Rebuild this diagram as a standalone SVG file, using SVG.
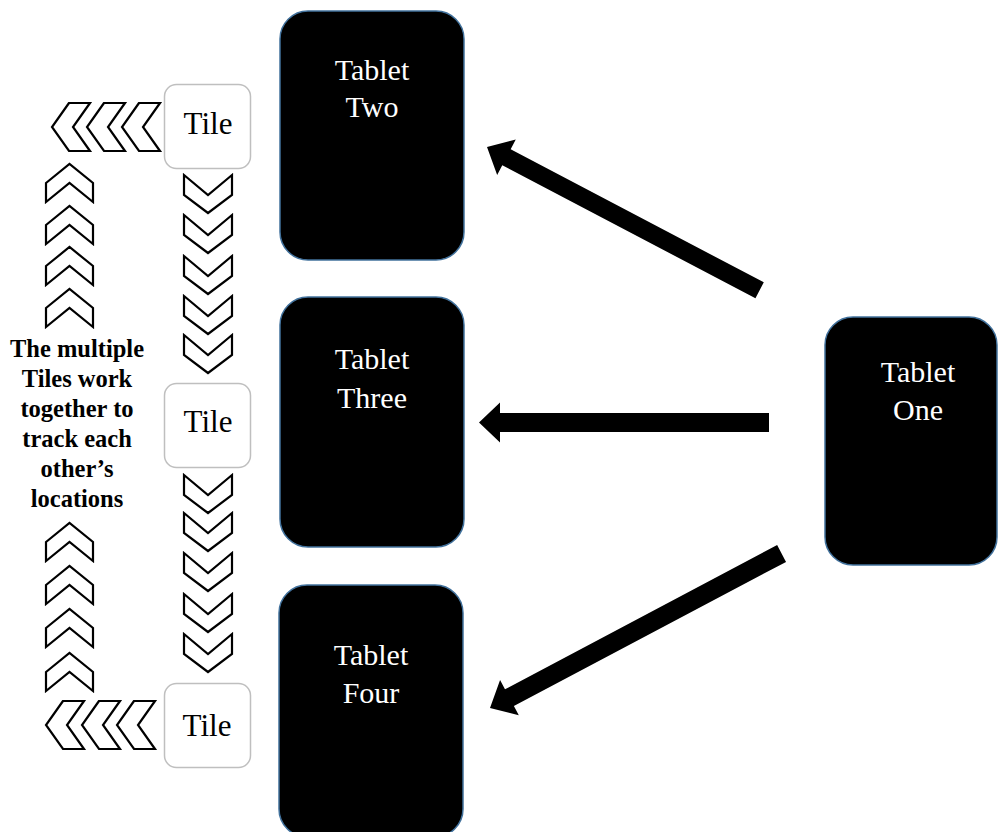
<svg xmlns="http://www.w3.org/2000/svg" xmlns:xlink="http://www.w3.org/1999/xlink" width="998" height="832" viewBox="0 0 998 832">
<style>
.tablet{fill:#000;stroke:#41719c;stroke-width:1.5}
.ttext{font-family:"Liberation Serif","Times New Roman",serif;font-size:30px;fill:#fff;text-anchor:middle}
.tile{fill:#fff;stroke:#bfbfbf;stroke-width:1.5}
.tiletext{font-family:"Liberation Serif","Times New Roman",serif;font-size:31px;fill:#000;text-anchor:middle}
.note{font-family:"Liberation Serif","Times New Roman",serif;font-size:24.5px;font-weight:bold;fill:#000;text-anchor:middle}
.chev{fill:#fff;stroke:#000;stroke-width:2.2;stroke-linejoin:miter}
.arrow{fill:#000}
</style>
<defs>
<path id="up" class="chev" d="M0,19 L23.5,0 L47,19 L47,38 L23.5,19 L0,38 Z"/>
<path id="down" class="chev" d="M0,0 L24,20 L48,0 L48,20 L24,38 L0,20 Z"/>
<path id="left" class="chev" d="M17,0 L0,24 L17,48 L38,48 L21,24 L38,0 Z"/>
</defs>
<rect width="998" height="832" fill="#fff"/>
<g id="connectors">
<polygon class="arrow" transform="translate(487,147) rotate(27.73)" points="0,0 22,-20 22,-9 308,-9 308,9 22,9 22,20"/>
<polygon class="arrow" transform="translate(479,422.5)" points="0,0 21,-20 21,-9.5 290,-9.5 290,9.5 21,9.5 21,20"/>
<polygon class="arrow" transform="translate(490,708) rotate(-27.92)" points="0,0 22,-20 22,-9.5 330,-9.5 330,9.5 22,9.5 22,20"/>
</g>
<g id="chevrons">
<use xlink:href="#left" x="52" y="103"/>
<use xlink:href="#left" x="87" y="103"/>
<use xlink:href="#left" x="122" y="103"/>
<use xlink:href="#left" x="46" y="701"/>
<use xlink:href="#left" x="82" y="701"/>
<use xlink:href="#left" x="117" y="701"/>
<use xlink:href="#up" x="46" y="164"/>
<use xlink:href="#up" x="46" y="206"/>
<use xlink:href="#up" x="46" y="247"/>
<use xlink:href="#up" x="46" y="289"/>
<use xlink:href="#up" x="46" y="523"/>
<use xlink:href="#up" x="46" y="566"/>
<use xlink:href="#up" x="46" y="609"/>
<use xlink:href="#up" x="46" y="653"/>
<use xlink:href="#down" x="184" y="175"/>
<use xlink:href="#down" x="184" y="215"/>
<use xlink:href="#down" x="184" y="256"/>
<use xlink:href="#down" x="184" y="296"/>
<use xlink:href="#down" x="184" y="335"/>
<use xlink:href="#down" x="184" y="475"/>
<use xlink:href="#down" x="184" y="513"/>
<use xlink:href="#down" x="184" y="553"/>
<use xlink:href="#down" x="184" y="594"/>
<use xlink:href="#down" x="184" y="634"/>
</g>
<g id="tablet-two">
<rect class="tablet" x="280" y="11" width="184" height="249" rx="28"/>
<text class="ttext" x="372" y="80">Tablet</text>
<text class="ttext" x="372" y="117">Two</text>
</g>
<g id="tablet-three">
<rect class="tablet" x="280" y="297" width="184" height="250" rx="28"/>
<text class="ttext" x="372" y="369">Tablet</text>
<text class="ttext" x="372" y="408">Three</text>
</g>
<g id="tablet-four">
<rect class="tablet" x="279" y="585" width="184" height="252" rx="28"/>
<text class="ttext" x="371" y="665">Tablet</text>
<text class="ttext" x="371" y="703">Four</text>
</g>
<g id="tablet-one">
<rect class="tablet" x="825" y="317" width="172" height="248" rx="28"/>
<text class="ttext" x="918" y="382">Tablet</text>
<text class="ttext" x="918" y="420">One</text>
</g>
<g id="tile-1">
<rect class="tile" x="164.5" y="84.5" width="86" height="84" rx="12"/>
<text class="tiletext" x="208" y="134">Tile</text>
</g>
<g id="tile-2">
<rect class="tile" x="164.5" y="383.5" width="86" height="84" rx="12"/>
<text class="tiletext" x="208" y="432">Tile</text>
</g>
<g id="tile-3">
<rect class="tile" x="164.5" y="683.5" width="86" height="84" rx="12"/>
<text class="tiletext" x="207" y="736">Tile</text>
</g>
<g id="note">
<text class="note" x="77" y="357">The multiple</text>
<text class="note" x="77" y="387">Tiles work</text>
<text class="note" x="77" y="417">together to</text>
<text class="note" x="77" y="447">track each</text>
<text class="note" x="77" y="477">other’s</text>
<text class="note" x="77" y="507">locations</text>
</g>
</svg>
